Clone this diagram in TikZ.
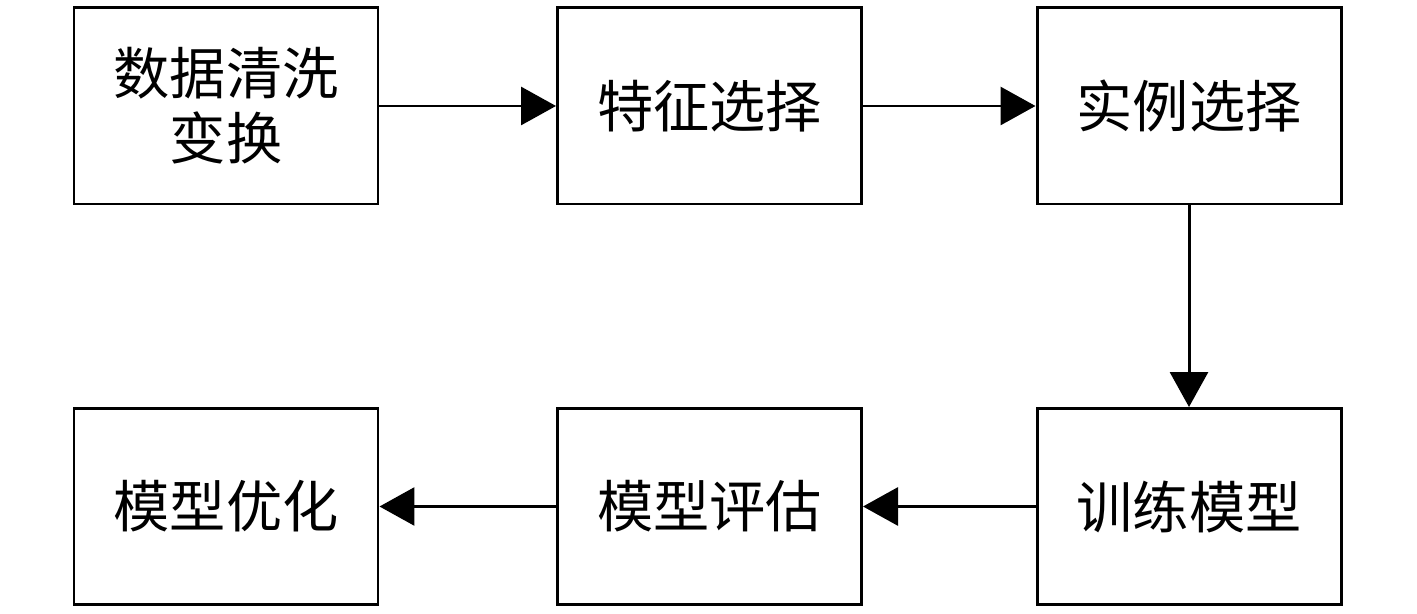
\documentclass[tikz,border=0pt]{standalone}
\usepackage{fontspec}
\setmainfont{Noto Sans CJK SC}
\usetikzlibrary{arrows.meta}
\tikzset{
  stepbox/.style={draw, line width=1.7pt, minimum width=6.08cm, minimum height=3.92cm,
    inner sep=0pt, align=center, font=\fontsize{32}{37}\selectfont},
  flow/.style={line width=1.7pt, -{Triangle[length=0.7cm,width=0.76cm]}}
}
\begin{document}
\begin{tikzpicture}
\useasboundingbox (0,0) rectangle (28.34,-12.28);
\node [stepbox] (clean) at (4.52,-2.12) {数据清洗\\变换};
\node [stepbox] (feat) at (14.19,-2.12) {特征选择};
\node [stepbox] (inst) at (23.78,-2.12) {实例选择};
\node [stepbox] (train) at (23.78,-10.13) {训练模型};
\node [stepbox] (eval) at (14.19,-10.13) {模型评估};
\node [stepbox] (opt) at (4.52,-10.13) {模型优化};
\draw [flow] (clean) -- (feat);
\draw [flow] (feat) -- (inst);
\draw [flow] (inst) -- (train);
\draw [flow] (train) -- (eval);
\draw [flow] (eval) -- (opt);
\end{tikzpicture}
\end{document}
